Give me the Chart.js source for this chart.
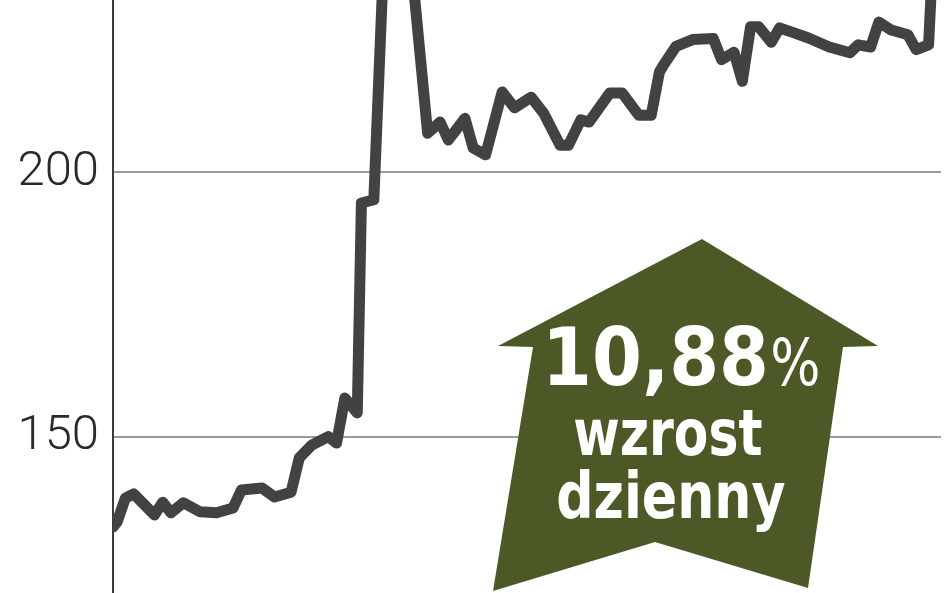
<!DOCTYPE html>
<html lang="pl">
<head>
<meta charset="UTF-8">
<title>Notowania</title>
<script src="https://cdn.jsdelivr.net/npm/chart.js@4.4.1/dist/chart.umd.min.js"></script>
<style>
    html, body { margin: 0; padding: 0; background: #ffffff; }
    #wrap { position: relative; width: 948px; height: 593px; }
</style>
</head>
<body>
<div id="wrap"><canvas id="priceChart"></canvas></div>
<script>
// ==========================================
// DATA
// ==========================================
// trading day index
const days = [0, 1, 3, 5, 10, 12, 14, 17, 21, 25, 29, 31, 36, 39, 43, 45, 48, 52, 54, 56,
    59, 60, 63, 65, 68, 70, 72, 76, 79, 81, 85, 87, 90, 94, 97, 101, 104, 108, 110, 113,
    115, 120, 123, 127, 130, 132, 133, 136, 140, 145, 147, 150, 152, 154, 156, 159, 161,
    164, 168, 173, 178, 180, 183, 185, 188, 192, 194, 197, 198];

// closing price
const prices = [132.9, 133.9, 138.4, 139.2, 135.2, 137.6, 135.6, 137.5, 135.8, 135.6, 136.5,
    139.9, 140.3, 138.6, 139.5, 146.0, 148.4, 150.0, 148.8, 157.3,
    154.5, 194.2, 194.8, 233, 250, 248, 240, 207.4, 209.5, 206.1, 210.2, 204.6, 203.3, 215.2,
    212.2, 214.2, 211.2, 205.1, 205.1, 209.9,
    209.5, 215.0, 215.0, 210.8, 210.8, 219.0, 220.3, 223.8, 225.1, 225.3, 221.3, 222.7, 217.2,
    227.5, 227.5, 224.6, 227.3,
    226.5, 225.4, 223.7, 222.6, 224.1, 223.7, 228.4, 226.9, 226.0, 223.2, 224.1, 240];

const yTicks = [150, 200];
const badgeValue = '10,88';
const badgeUnit = '%';
const badgeLabel1 = 'wzrost';
const badgeLabel2 = 'dzienny';

// ==========================================
// BADGE (green arrow with daily change)
// ==========================================
const arrowShape = [
    [702, 239], [878, 346], [843, 347], [808, 588],
    [655, 542], [493, 591], [533, 347], [498, 346]
];

const condensed = '"DejaVu Sans Condensed", "Liberation Sans Narrow", "DejaVu Sans", sans-serif';

const badgeText = [
    { text: badgeValue,  font: 'bold 80px ' + condensed, left: 550, right: 765, baseline: 385 },
    { text: badgeUnit,   font: '64px ' + condensed,      left: 773, right: 818, baseline: 385 },
    { text: badgeLabel1, font: 'bold 64px ' + condensed, left: 575, right: 762, baseline: 455 },
    { text: badgeLabel2, font: 'bold 64px ' + condensed, left: 558, right: 785, baseline: 518 }
];

// squeeze/stretch a text run so its ink fits between left and right
function fitText(ctx, t) {
    ctx.font = t.font;
    const m = ctx.measureText(t.text);
    const ink = m.actualBoundingBoxLeft + m.actualBoundingBoxRight;
    const sx = (t.right - t.left) / ink;
    ctx.save();
    ctx.translate(t.left + m.actualBoundingBoxLeft * sx, t.baseline);
    ctx.scale(sx, 1);
    ctx.fillText(t.text, 0, 0);
    ctx.restore();
}

const badgePlugin = {
    id: 'badge',
    afterDatasetsDraw(chart) {
        const ctx = chart.ctx;
        ctx.save();
        ctx.beginPath();
        arrowShape.forEach(([x, y], i) => i ? ctx.lineTo(x, y) : ctx.moveTo(x, y));
        ctx.closePath();
        ctx.fillStyle = '#4c5926';
        ctx.fill();

        ctx.fillStyle = '#ffffff';
        ctx.textAlign = 'left';
        ctx.textBaseline = 'alphabetic';
        badgeText.forEach(t => fitText(ctx, t));
        ctx.restore();
    }
};

// ==========================================
// CHART
// ==========================================
const ctx = document.getElementById('priceChart').getContext('2d');

const priceChart = new Chart(ctx, {
    type: 'line',
    data: {
        datasets: [{
            data: days.map((d, i) => ({ x: d, y: prices[i] })),
            borderColor: '#424242',
            borderWidth: 11,
            borderJoinStyle: 'round',
            borderCapStyle: 'round',
            pointRadius: 0,
            tension: 0,
            fill: false
        }]
    },
    options: {
        responsive: true,
        maintainAspectRatio: false,
        animation: false,
        layout: { autoPadding: false, padding: { left: 0, right: 7, top: 0, bottom: 0 } },
        plugins: {
            legend: { display: false },
            tooltip: { enabled: false }
        },
        scales: {
            x: {
                type: 'linear',
                min: 0,
                max: 200,
                display: false
            },
            y: {
                type: 'linear',
                min: 120.44,
                max: 232.58,
                afterBuildTicks: scale => { scale.ticks = yTicks.map(v => ({ value: v })); },
                afterFit: scale => {
                    // axis runs the full height, labels sit well inside
                    scale.width = 113;
                    scale.paddingTop = 0;
                    scale.paddingBottom = 0;
                },
                grid: { color: '#9a9a9a', lineWidth: 2, drawTicks: false },
                border: { display: true, color: '#3a3a3a', width: 2 },
                ticks: {
                    color: '#2a2a2a',
                    padding: 14,
                    font: { family: 'Roboto', weight: 300, size: 49 }
                }
            }
        }
    },
    plugins: [badgePlugin]
});
</script>
</body>
</html>
